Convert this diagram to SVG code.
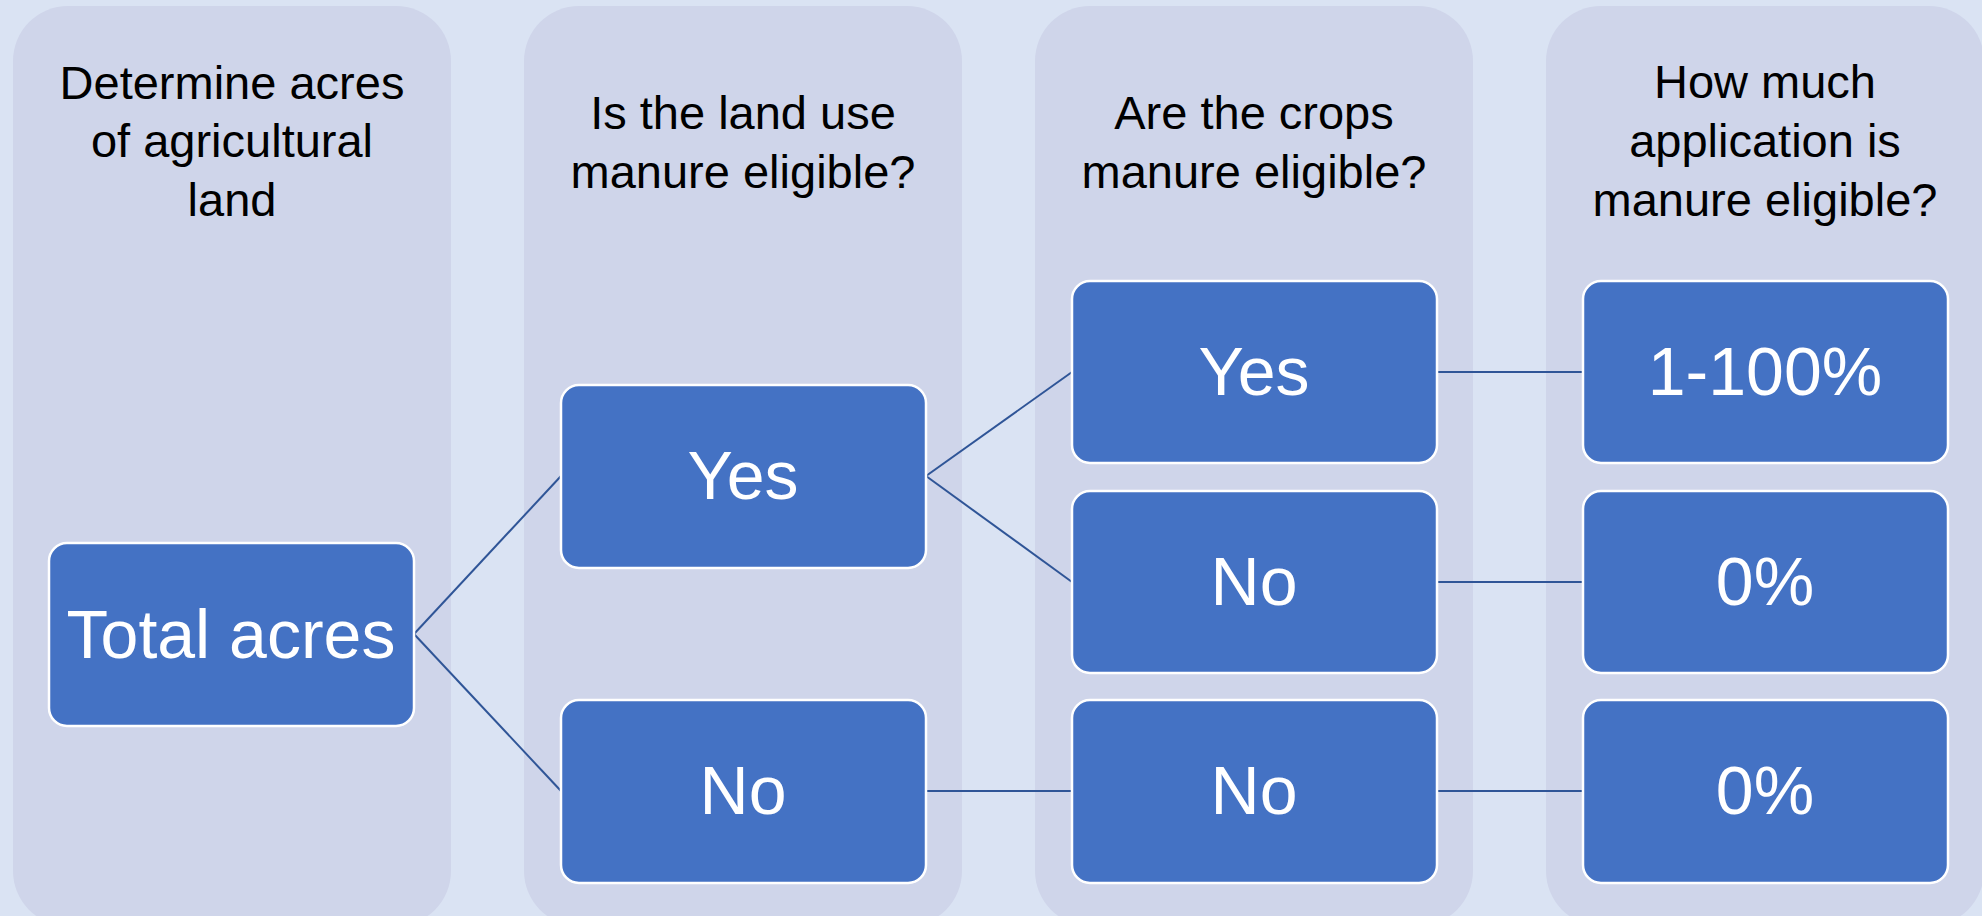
<svg xmlns="http://www.w3.org/2000/svg" width="1982" height="916" viewBox="0 0 1982 916">
<style>
.panel{fill:#CFD5EA}
.hdr{font-family:"Liberation Sans",Arial,sans-serif;font-size:47px;fill:#000;text-anchor:middle}
.box{fill:#4472C4;stroke:#FFFFFF;stroke-width:2.5}
.lbl{font-family:"Liberation Sans",Arial,sans-serif;font-size:68px;fill:#FFFFFF;text-anchor:middle}
.conn{stroke:#2F5597;stroke-width:2;fill:none}
</style>
<rect x="0" y="0" width="1982" height="916" fill="#DAE3F3"/>
<g id="col1">
<rect class="panel" x="13" y="6" width="438" height="920" rx="55"/>
<text class="hdr" x="232" y="99">Determine acres</text>
<text class="hdr" x="232" y="157">of agricultural</text>
<text class="hdr" x="232" y="216">land</text>
</g>
<g id="col2">
<rect class="panel" x="524" y="6" width="438" height="920" rx="55"/>
<text class="hdr" x="743" y="129">Is the land use</text>
<text class="hdr" x="743" y="188">manure eligible?</text>
</g>
<g id="col3">
<rect class="panel" x="1035" y="6" width="438" height="920" rx="55"/>
<text class="hdr" x="1254" y="129">Are the crops</text>
<text class="hdr" x="1254" y="188">manure eligible?</text>
</g>
<g id="col4">
<rect class="panel" x="1546" y="6" width="438" height="920" rx="55"/>
<text class="hdr" x="1765" y="98">How much</text>
<text class="hdr" x="1765" y="157">application is</text>
<text class="hdr" x="1765" y="216">manure eligible?</text>
</g>
<g id="connectors">
<line class="conn" x1="414" y1="634" x2="561" y2="476"/>
<line class="conn" x1="414" y1="634" x2="561" y2="791"/>
<line class="conn" x1="926" y1="476" x2="1072" y2="372"/>
<line class="conn" x1="926" y1="476" x2="1072" y2="582"/>
<line class="conn" x1="926" y1="791" x2="1072" y2="791"/>
<line class="conn" x1="1437" y1="372" x2="1583" y2="372"/>
<line class="conn" x1="1437" y1="582" x2="1583" y2="582"/>
<line class="conn" x1="1437" y1="791" x2="1583" y2="791"/>
</g>
<g id="total">
<rect class="box" x="49" y="543" width="365" height="183" rx="18"/>
<text class="lbl" x="231" y="658">Total acres</text>
</g>
<g id="land-yes">
<rect class="box" x="561" y="385" width="365" height="183" rx="18"/>
<text class="lbl" x="743" y="499">Yes</text>
</g>
<g id="land-no">
<rect class="box" x="561" y="700" width="365" height="183" rx="18"/>
<text class="lbl" x="743" y="814">No</text>
</g>
<g id="crops-yes">
<rect class="box" x="1072" y="281" width="365" height="182" rx="18"/>
<text class="lbl" x="1254" y="395">Yes</text>
</g>
<g id="crops-no">
<rect class="box" x="1072" y="491" width="365" height="182" rx="18"/>
<text class="lbl" x="1254" y="605">No</text>
</g>
<g id="crops-no2">
<rect class="box" x="1072" y="700" width="365" height="183" rx="18"/>
<text class="lbl" x="1254" y="814">No</text>
</g>
<g id="app-1-100">
<rect class="box" x="1583" y="281" width="365" height="182" rx="18"/>
<text class="lbl" x="1765" y="395">1-100%</text>
</g>
<g id="app-0a">
<rect class="box" x="1583" y="491" width="365" height="182" rx="18"/>
<text class="lbl" x="1765" y="605">0%</text>
</g>
<g id="app-0b">
<rect class="box" x="1583" y="700" width="365" height="183" rx="18"/>
<text class="lbl" x="1765" y="814">0%</text>
</g>
</svg>
